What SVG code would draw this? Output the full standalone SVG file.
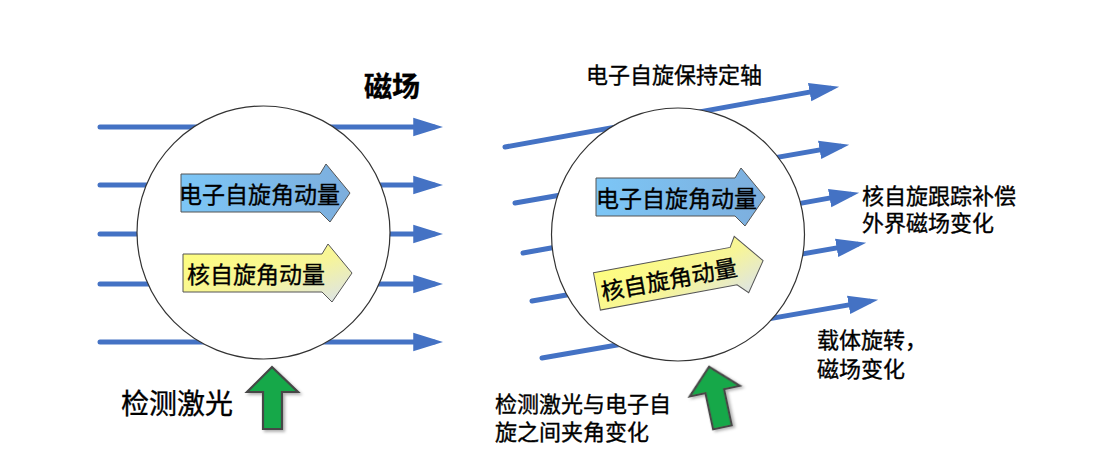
<svg xmlns="http://www.w3.org/2000/svg" width="1117" height="458" viewBox="0 0 1117 458">
<style>
.fl{stroke:#4472c4;stroke-width:5;stroke-linecap:round;fill:none;marker-end:url(#ah)}
.circ{fill:#fff;stroke:#333;stroke-width:1.2}
.t{font-family:"Noto Sans CJK SC","Liberation Sans",sans-serif;fill:#000;stroke:#000;stroke-width:0.35;dominant-baseline:central}
.big{stroke:#555;stroke-width:1}
.grn{fill:#12a84a;stroke:#474747;stroke-width:2.2;stroke-linejoin:miter;filter:url(#sh)}
</style>
<defs>
<marker id="ah" markerUnits="userSpaceOnUse" markerWidth="30" markerHeight="20" viewBox="0 0 26 16" refX="18" refY="8" orient="auto">
<path d="M0,0 L26,8 L0,16 z" fill="#4472c4"/>
</marker>
<linearGradient id="gb" x1="0" y1="0" x2="1" y2="0">
<stop offset="0" stop-color="#7cc6f6"/>
<stop offset="1" stop-color="#7daedd"/>
</linearGradient>
<linearGradient id="gy" x1="0" y1="0" x2="1" y2="1">
<stop offset="0" stop-color="#ffff7a"/>
<stop offset="0.55" stop-color="#f7f598"/>
<stop offset="1" stop-color="#dae2ee"/>
</linearGradient>
<filter id="sh" x="-30%" y="-30%" width="160%" height="160%">
<feDropShadow dx="2" dy="2" stdDeviation="1.5" flood-color="#000" flood-opacity="0.3"/>
</filter>
<polygon id="arrowShape" points="0,0 139,0 145,-10 169,19 149,48 139,38 0,38"/>
</defs>

<g id="connectors">
<line class="fl" x1="100" y1="127" x2="434" y2="127"/>
<line class="fl" x1="100" y1="185" x2="434" y2="185"/>
<line class="fl" x1="100" y1="234" x2="434" y2="234"/>
<line class="fl" x1="100" y1="284" x2="434" y2="284"/>
<line class="fl" x1="100" y1="342" x2="434" y2="342"/>
<line class="fl" x1="505" y1="147" x2="830.1" y2="88.4"/>
<line class="fl" x1="515" y1="203" x2="840.1" y2="146.4"/>
<line class="fl" x1="523" y1="253" x2="850.1" y2="194.4"/>
<line class="fl" x1="532" y1="301" x2="857.1" y2="244.4"/>
<line class="fl" x1="542" y1="358" x2="869.1" y2="301.4"/>
</g>

<g id="circle-left"><circle class="circ" cx="263.5" cy="232.5" r="126.5"/></g>
<g id="circle-right"><circle class="circ" cx="678" cy="234.5" r="126.5"/></g>

<g id="label-field"><text class="t" x="364" y="85" font-size="28" font-weight="bold">磁场</text></g>

<g id="electron-left">
<use href="#arrowShape" x="181" y="174" class="big" fill="url(#gb)"/>
<text class="t" x="179" y="193" font-size="23">电子自旋角动量</text>
</g>
<g id="nuclear-left">
<use href="#arrowShape" x="183" y="254" class="big" fill="url(#gy)"/>
<text class="t" x="187" y="273" font-size="23">核自旋角动量</text>
</g>

<g id="electron-right">
<use href="#arrowShape" x="596" y="178" class="big" fill="url(#gb)"/>
<text class="t" x="596" y="197" font-size="23">电子自旋角动量</text>
</g>
<g id="nuclear-right" transform="translate(680,276) rotate(-10.5) translate(-267.5,-273)">
<use href="#arrowShape" x="183" y="254" class="big" fill="url(#gy)"/>
<text class="t" x="187" y="273" font-size="23">核自旋角动量</text>
</g>

<g id="laser-left">
<polygon class="grn" points="272,367 298,392 282,392 282,429 263,429 263,392 247,392"/>
</g>
<g id="laser-right" transform="translate(716,397) rotate(-12) translate(-272.5,-398)">
<polygon class="grn" points="272,367 298,392 282,392 282,429 263,429 263,392 247,392"/>
</g>

<g id="label-laser-left"><text class="t" x="121" y="402" font-size="28">检测激光</text></g>
<g id="label-electron-axis"><text class="t" x="586" y="73" font-size="22">电子自旋保持定轴</text></g>
<g id="label-nuclear-track">
<text class="t" x="862" y="194" font-size="22">核自旋跟踪补偿</text>
<text class="t" x="862" y="221" font-size="22">外界磁场变化</text>
</g>
<g id="label-carrier">
<text class="t" x="817" y="338" font-size="22">载体旋转，</text>
<text class="t" x="817" y="367" font-size="22">磁场变化</text>
</g>
<g id="label-laser-right">
<text class="t" x="495" y="402" font-size="22">检测激光与电子自</text>
<text class="t" x="495" y="430" font-size="22">旋之间夹角变化</text>
</g>
</svg>
